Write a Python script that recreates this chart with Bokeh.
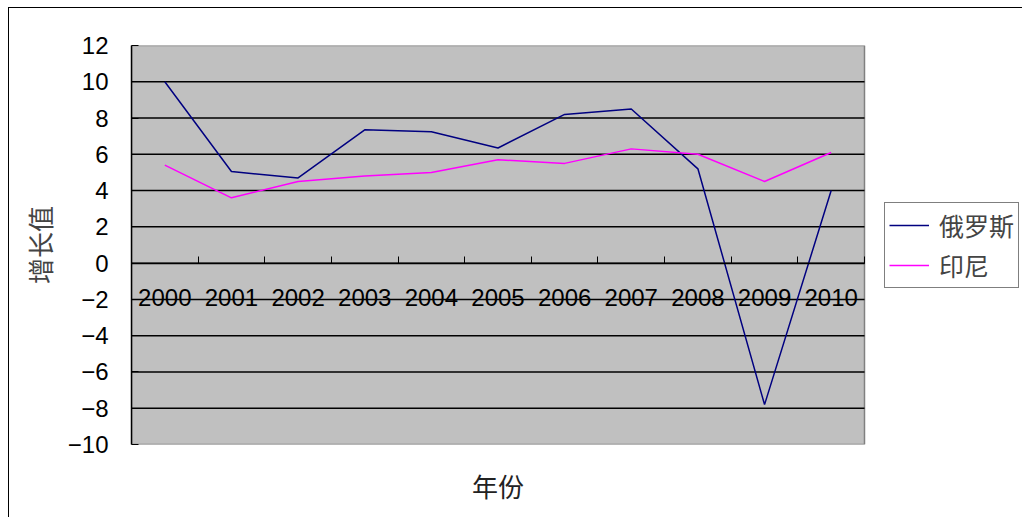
from bokeh.plotting import figure
from bokeh.models import (Range1d, LinearAxis, FixedTicker, Legend, LegendItem,
                          CustomJSTickFormatter, ColumnDataSource)
from bokeh.embed import file_html
from bokeh.resources import INLINE

years = ["2000", "2001", "2002", "2003", "2004", "2005", "2006", "2007", "2008", "2009", "2010"]
russia = [10.0, 5.05, 4.7, 7.35, 7.25, 6.35, 8.2, 8.5, 5.2, -7.8, 4.0]
indonesia = [5.4, 3.6, 4.5, 4.8, 5.0, 5.7, 5.5, 6.3, 6.0, 4.5, 6.1]
y_ticks = [-10, -8, -6, -4, -2, 0, 2, 4, 6, 8, 10, 12]
series_names = ["俄罗斯", "印尼"]
x_title = "年份"
y_title = "增长值"

CJK = "Noto Sans CJK SC"
NUM = "Liberation Sans"

n = len(years)
y_lo, y_hi = y_ticks[0], y_ticks[-1]
centers = [i + 0.5 for i in range(n)]  # category slot centres
src = ColumnDataSource(dict(x=centers, year=years, russia=russia, indonesia=indonesia))
inner = [t for t in y_ticks if y_lo < t < y_hi]
grid_src = ColumnDataSource(dict(x0=[0] * len(inner), x1=[n] * len(inner), y=inner))

# frame spans the plot area plus the legend zone on its right
PLOT_W, FRAME_W = 733, 892
x_end = n * FRAME_W / PLOT_W

p = figure(width=1014, height=510,
           x_range=Range1d(0, x_end),
           y_range=Range1d(y_lo, y_hi),
           output_backend="svg", toolbar_location=None,
           x_axis_location=None, y_axis_location=None,
           min_border_left=122, min_border_right=0,
           min_border_top=37, min_border_bottom=74,
           background_fill_color="white",
           border_fill_color="white",
           outline_line_color=None)
p.styles = {"margin-left": "8px", "margin-top": "7px",
            "border-left": "1px solid #000", "border-top": "1px solid #000"}
for g in p.grid:
    g.visible = False

# grey plot area over the category span
p.quad(left=0, right=n, bottom=y_lo, top=y_hi,
       fill_color="#C0C0C0", line_color="#808080", line_width=1.5)

# horizontal gridlines limited to the plot area
p.segment(x0="x0", x1="x1", y0="y", y1="y", source=grid_src,
          line_color="black", line_width=1.5)

# y axis
yaxis = LinearAxis(ticker=FixedTicker(ticks=y_ticks), axis_label=y_title,
                   axis_line_color="black", axis_line_width=1.5,
                   major_tick_in=7, major_tick_out=0, major_tick_line_color="black",
                   minor_tick_line_color=None,
                   major_label_standoff=23,
                   major_label_text_font=NUM, major_label_text_font_size="24px",
                   major_label_text_color="black",
                   axis_label_text_font=CJK, axis_label_text_font_size="26px",
                   axis_label_text_font_style="normal", axis_label_standoff=7)
p.add_layout(yaxis, "left")

# category boundary ticks on the zero line
xtick_axis = LinearAxis(fixed_location=0, bounds=(0, n),
                        ticker=FixedTicker(ticks=list(range(n + 1))),
                        axis_line_color="black", axis_line_width=1.5,
                        major_tick_in=7, major_tick_out=0, major_tick_line_color="black",
                        minor_tick_line_color=None,
                        major_label_text_color=None, major_label_text_font_size="1px")
p.add_layout(xtick_axis, "below")

# category labels below the zero line
xlab_axis = LinearAxis(fixed_location=0, bounds=(0, n), axis_line_color=None,
                       ticker=FixedTicker(ticks=centers),
                       formatter=CustomJSTickFormatter(args=dict(labels=years),
                                                       code="return labels[Math.floor(tick)];"),
                       major_tick_line_color=None, minor_tick_line_color=None,
                       major_tick_in=0, major_tick_out=0,
                       major_label_standoff=26,
                       major_label_text_font=NUM, major_label_text_font_size="24px",
                       major_label_text_color="black")
p.add_layout(xlab_axis, "below")

# x title, centred under the plot area
xtitle_axis = LinearAxis(ticker=FixedTicker(ticks=[n / 2]), bounds=(0, n),
                         formatter=CustomJSTickFormatter(args=dict(t=x_title),
                                                         code="return t;"),
                         axis_line_color=None,
                         major_tick_line_color=None, minor_tick_line_color=None,
                         major_tick_in=0, major_tick_out=0, major_label_standoff=22,
                         major_label_text_font=CJK, major_label_text_font_size="26px",
                         major_label_text_color="#222222")
p.add_layout(xtitle_axis, "below")

r1 = p.line(x="x", y="russia", source=src, line_color="#000080", line_width=1.5)
r2 = p.line(x="x", y="indonesia", source=src, line_color="#FF00FF", line_width=1.5)

legend = Legend(items=[LegendItem(label=series_names[0], renderers=[r1]),
                       LegendItem(label=series_names[1], renderers=[r2])],
                location=(753, 156), orientation="vertical",
                border_line_color="black", border_line_width=1.5,
                background_fill_color="white", background_fill_alpha=1,
                label_text_font=CJK, label_text_font_size="25px",
                label_standoff=10, glyph_width=40, glyph_height=26, label_height=26,
                spacing=4, padding=4, margin=0)
p.add_layout(legend)

open("out.html", "w").write(file_html(p, INLINE))
